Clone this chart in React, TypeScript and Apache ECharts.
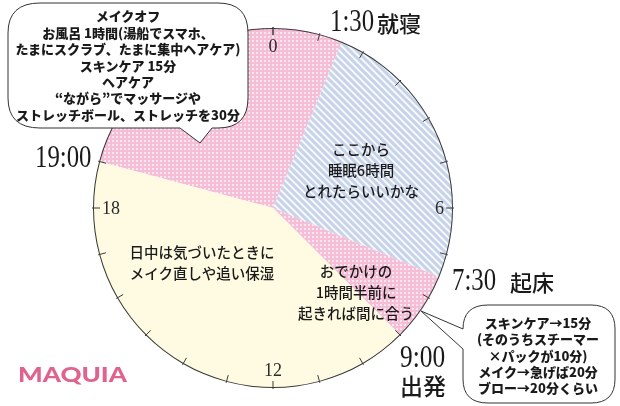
import React, { useEffect, useRef } from "react";
import * as echarts from "echarts";

// ---- data ----
const segmentNames = ["夜のケア", "睡眠", "朝の支度", "日中"];
const segmentHours = [6.5, 6, 1.5, 10]; // 19:00→1:30, 1:30→7:30, 7:30→9:00, 9:00→19:00
const firstSegmentStartHour = 19;
const dialMin = 0;
const dialMax = 24;
const dialLabelValues = [0, 6, 12, 18];

const timeTexts = ["1:30", "19:00", "7:30", "9:00"];
const eventTexts = ["就寝", "起床", "出発"];
const segmentNotes = [
  "ここから\n睡眠6時間\nとれたらいいかな",
  "日中は気づいたときに\nメイク直しや追い保湿",
  "おでかけの\n1時間半前に\n起きれば間に合う",
];
const nightBubbleLines = [
  "メイクオフ",
  "お風呂 1時間(湯船でスマホ、",
  "たまにスクラブ、たまに集中ヘアケア)",
  "スキンケア 15分",
  "ヘアケア",
  "“ながら”でマッサージや",
  "ストレッチボール、ストレッチを30分",
];
const morningBubbleLines = [
  "スキンケア→15分",
  "(そのうちスチーマー",
  "×パックが10分)",
  "メイク→急げば20分",
  "ブロー→20分くらい",
];
const brandText = "MAQUIA";

// ---- styles ----
const PINK = "#f5bdd6";
const BLUE = "#c6d3e8";
const CREAM = "#fffbe2";
const CJK = '"Noto Sans CJK JP", sans-serif';
const SERIF = '"Liberation Serif", serif';

const bubble1 =
  "M 40 3 H 218 Q 248 3 248 33 V 98 Q 248 128 218 128 H 212 L 200 143 L 180 128 H 40 Q 8 128 8 98 V 33 Q 8 3 40 3 Z";
const bubble2 =
  "M 488 305 H 591 Q 615 305 615 329 V 379 Q 615 403 591 403 H 488 Q 463 403 463 379 V 349 L 421 311 L 463 329 Q 463 305 488 305 Z";

let registered = false;
function registerShapes() {
  if (registered) return;
  registered = true;
  echarts.graphic.registerShape("bubbleNight", echarts.graphic.extendPath(bubble1, {}) as any);
  echarts.graphic.registerShape("bubbleMorning", echarts.graphic.extendPath(bubble2, {}) as any);
}

const dotDecal = {
  symbol: "rect",
  symbolSize: 0.9,
  dashArrayX: [2, 2],
  dashArrayY: [2, 2],
  color: "rgba(255,255,255,0.7)",
  rotation: 0,
};
const stripeDecal = {
  symbol: "rect",
  symbolSize: 1,
  dashArrayX: [1, 0],
  dashArrayY: [1.5, 2.7],
  color: "rgba(255,255,255,0.85)",
  rotation: Math.PI / 4,
};

function txt(text: string, x: number, y: number, opts: any = {}) {
  const { scaleX = 1, align = "center", font, fill = "#1a1a1a", lineHeight } = opts;
  return {
    type: "text",
    x,
    y,
    scaleX,
    z: 110,
    silent: true,
    style: {
      text,
      x: 0,
      y: 0,
      fill,
      font,
      lineHeight,
      align,
      verticalAlign: "middle",
      textAlign: align,
      textVerticalAlign: "middle",
    },
  };
}

export default function App() {
  const ref = useRef<HTMLDivElement>(null);
  useEffect(() => {
    if (!ref.current) return;
    registerShapes();
    const chart = echarts.init(ref.current, undefined, { renderer: "svg" });
    const cx = 273;
    const cy = 208;
    const R = 180;
    const start = (((90 - (firstSegmentStartHour / (dialMax - dialMin)) * 360) % 360) + 360) % 360;
    const colors = [PINK, BLUE, PINK, CREAM];
    const decals = [dotDecal, stripeDecal, dotDecal, { symbol: "none" }];

    chart.setOption({
      animation: false,
      series: [
        {
          type: "pie",
          center: [cx, cy],
          radius: [0, R],
          startAngle: start,
          clockwise: true,
          silent: true,
          label: { show: false },
          labelLine: { show: false },
          itemStyle: { borderWidth: 0 },
          data: segmentHours.map((v, i) => ({
            name: segmentNames[i],
            value: v,
            itemStyle: { color: colors[i], decal: decals[i] },
          })),
          z: 2,
        },
        {
          type: "gauge",
          center: [cx, cy],
          radius: R,
          startAngle: 90,
          endAngle: -270,
          min: dialMin,
          max: dialMax,
          splitNumber: 24,
          silent: true,
          pointer: { show: false },
          anchor: { show: false },
          progress: { show: false },
          title: { show: false },
          detail: { show: false },
          axisLine: { lineStyle: { width: 1, color: [[1, "#3a3a3a"]] } },
          axisTick: { show: false },
          splitLine: { length: 8, distance: -2, lineStyle: { width: 1, color: "#3a3a3a" } },
          axisLabel: {
            distance: 3,
            color: "#2a2a2a",
            fontFamily: SERIF,
            fontSize: 18,
            formatter: (v: number) =>
              dialLabelValues.indexOf(Math.round(v)) >= 0 && Math.abs(v - Math.round(v)) < 1e-6
                ? String(Math.round(v))
                : "",
          },
          data: [],
          z: 3,
        },
      ],
      graphic: [
        { type: "bubbleNight", x: 0, y: 0, z: 100, silent: true, style: { fill: "#fff", stroke: "#333", lineWidth: 1 } },
        { type: "bubbleMorning", x: 0, y: 0, z: 100, silent: true, style: { fill: "#fff", stroke: "#333", lineWidth: 1 } },
        txt(nightBubbleLines.join("\n"), 128, 65, { font: `900 13px ${CJK}`, lineHeight: 16.4 }),
        txt(morningBubbleLines.join("\n"), 538, 355, { font: `900 13px ${CJK}`, lineHeight: 16.4 }),
        txt(segmentNotes[0], 361, 169, { font: `500 14.5px ${CJK}`, lineHeight: 21 }),
        txt(segmentNotes[1], 202, 262, { font: `500 14.5px ${CJK}`, lineHeight: 21 }),
        txt(segmentNotes[2], 356, 291, { font: `500 14.5px ${CJK}`, lineHeight: 21 }),
        txt(timeTexts[0], 330, 21, { font: `31px ${SERIF}`, scaleX: 0.8, align: "left" }),
        txt(eventTexts[0], 377, 22, { font: `500 22px ${CJK}`, align: "left" }),
        txt(timeTexts[1], 35, 157, { font: `31px ${SERIF}`, scaleX: 0.8, align: "left" }),
        txt(timeTexts[2], 452, 280, { font: `31px ${SERIF}`, scaleX: 0.8, align: "left" }),
        txt(eventTexts[1], 510, 281, { font: `500 22px ${CJK}`, align: "left" }),
        txt(timeTexts[3], 400, 357, { font: `31px ${SERIF}`, scaleX: 0.82, align: "left" }),
        txt(eventTexts[2], 400, 385, { font: `500 23px ${CJK}`, align: "left" }),
        txt(brandText, 18, 374, { font: `900 20px Lato, sans-serif`, scaleX: 1.3, align: "left", fill: "#e0638d" }),
      ],
    });
    return () => chart.dispose();
  }, []);
  return <div ref={ref} style={{ position: "fixed", left: 0, top: 0, width: 620, height: 406 }} />;
}
